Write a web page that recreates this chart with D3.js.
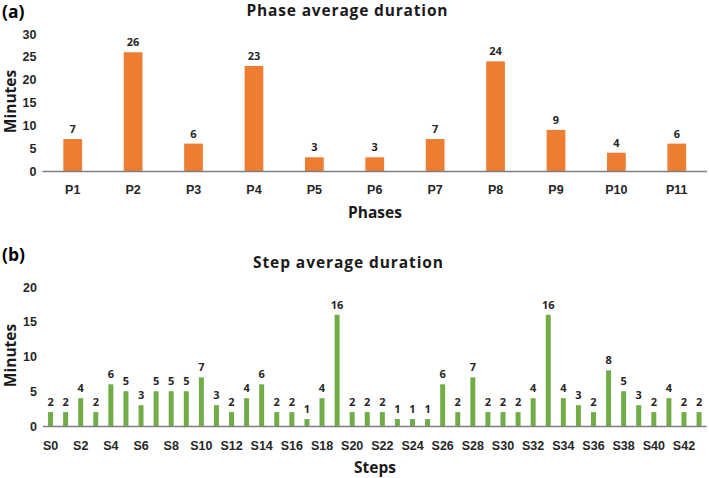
<!DOCTYPE html>
<html>
<head>
<meta charset="utf-8">
<script src="https://cdn.jsdelivr.net/npm/d3@7"></script>
<style>
  body { margin: 0; background: #fff; }
  svg { display: block; font-family: "Open Sans", sans-serif; }
  .tick text { font-weight: bold; fill: #262626; }
</style>
</head>
<body>
<svg id="chart" width="709" height="478"></svg>
<script>
// data
var phases = ["P1","P2","P3","P4","P5","P6","P7","P8","P9","P10","P11"];
var phaseMinutes = [7, 26, 6, 23, 3, 3, 7, 24, 9, 4, 6];
var phaseTicks = [0, 5, 10, 15, 20, 25, 30];

var steps = d3.range(44).map(function(i) { return "S" + i; });
var stepMinutes = [2, 2, 4, 2, 6, 5, 3, 5, 5, 5, 7, 3, 2, 4, 6, 2, 2, 1, 4, 16,
                   2, 2, 2, 1, 1, 1, 6, 2, 7, 2, 2, 2, 4, 16, 4, 3, 2, 8, 5, 3,
                   2, 4, 2, 2];
var stepTicks = [0, 5, 10, 15, 20];

var svg = d3.select("#chart");

// draw one panel of bars
function drawPanel(opt) {
	var g = svg.append("g");

	var x = d3.scaleBand()
		.domain(opt.cats)
		.range([opt.left, opt.right])
		.paddingInner(opt.pad)
		.paddingOuter(opt.pad / 2);

	var y = d3.scaleLinear()
		.domain([0, opt.max])
		.range([opt.bottom, opt.top]);

	// y axis labels only, no line
	var yAxis = g.append("g")
		.attr("transform", "translate(" + (opt.left - 6) + ",0)")
		.call(d3.axisLeft(y).tickValues(opt.yTicks).tickSize(0).tickPadding(0));
	yAxis.select(".domain").remove();
	yAxis.selectAll("text").style("font-size", "12.5px");

	// bars
	g.selectAll("rect.bar")
		.data(opt.values)
		.enter().append("rect")
		.attr("class", "bar")
		.attr("x", function(d, i) { return x(opt.cats[i]); })
		.attr("y", function(d) { return y(d); })
		.attr("width", x.bandwidth())
		.attr("height", function(d) { return y(0) - y(d); })
		.style("fill", opt.color);

	// value labels
	g.selectAll("text.val")
		.data(opt.values)
		.enter().append("text")
		.attr("class", "val")
		.attr("x", function(d, i) { return x(opt.cats[i]) + x.bandwidth() / 2; })
		.attr("y", function(d) { return y(d) - 6; })
		.attr("text-anchor", "middle")
		.style("font-size", "11px")
		.style("font-weight", "bold")
		.style("fill", "#262626")
		.text(function(d) { return d; });

	// x axis
	var xAxis = g.append("g")
		.attr("transform", "translate(0," + opt.bottom + ")")
		.call(d3.axisBottom(x).tickSize(0).tickPadding(opt.tickPad).tickSizeOuter(0)
			.tickFormat(function(d, i) { return i % opt.every == 0 ? d : ""; }));
	xAxis.select(".domain")
		.attr("d", "M" + opt.left + ",0.5H" + opt.right)
		.attr("stroke", "#7f7f7f")
		.attr("stroke-width", 1.3);
	xAxis.selectAll("text").style("font-size", "12.5px");

	// titles
	g.append("text")
		.attr("x", opt.titleX)
		.attr("y", opt.titleY)
		.attr("text-anchor", "middle")
		.attr("textLength", opt.titleLen)
		.attr("lengthAdjust", "spacing")
		.style("font-size", "15.5px")
		.style("font-weight", "bold")
		.style("fill", "#1a1a1a")
		.text(opt.title);

	g.append("text")
		.attr("x", 375)
		.attr("y", opt.xLabelY)
		.attr("text-anchor", "middle")
		.style("font-size", "15.5px")
		.style("font-weight", "bold")
		.style("fill", "#1a1a1a")
		.text(opt.xLabel);

	g.append("text")
		.attr("transform", "translate(16," + ((opt.top + opt.bottom) / 2 - 1) + ") rotate(-90)")
		.attr("text-anchor", "middle")
		.style("font-size", "15.5px")
		.style("font-weight", "bold")
		.style("fill", "#1a1a1a")
		.text("Minutes");

	g.append("text")
		.attr("x", 2)
		.attr("y", opt.tagY)
		.style("font-size", "17.5px")
		.style("font-weight", "bold")
		.style("fill", "#000")
		.text(opt.tag);
}

drawPanel({
	cats: phases, values: phaseMinutes, yTicks: phaseTicks, max: 30,
	left: 42.5, right: 707, top: 34, bottom: 171, pad: 0.69,
	color: "#ED7D31", every: 1, tickPad: 14,
	title: "Phase average duration", titleX: 347, titleY: 16, titleLen: 201,
	xLabel: "Phases", xLabelY: 218, tag: "(a)", tagY: 18
});

drawPanel({
	cats: steps, values: stepMinutes, yTicks: stepTicks, max: 20,
	left: 43, right: 706.6, top: 287, bottom: 426, pad: 0.67,
	color: "#70AD47", every: 2, tickPad: 15,
	title: "Step average duration", titleX: 348, titleY: 268, titleLen: 190,
	xLabel: "Steps", xLabelY: 473, tag: "(b)", tagY: 261
});
</script>
</body>
</html>
